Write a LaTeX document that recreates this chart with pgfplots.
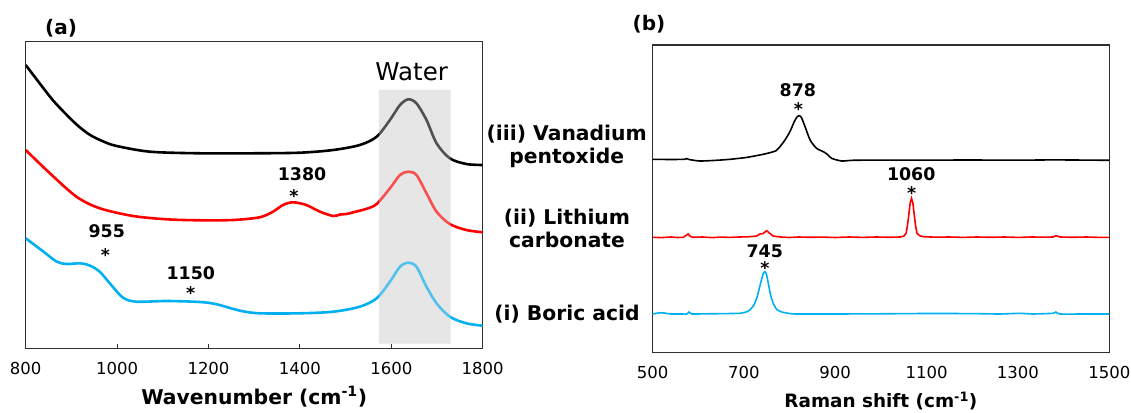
\documentclass[border=0pt]{standalone}
\usepackage{fontspec}
\setmainfont{DejaVu Sans}
\usepackage{pgfplots}
\pgfplotsset{compat=1.18}
\definecolor{bandgray}{HTML}{E7E6E6}
\definecolor{cblue}{HTML}{00B0F0}
\definecolor{cred}{HTML}{FF0000}
\definecolor{axgray}{HTML}{303030}
\pgfplotsset{myax/.style={scale only axis, anchor=south west, enlargelimits=false,
  ytick=\empty, axis line style={axgray, line width=1.2pt},
  /pgf/number format/assume math mode=true, /pgf/number format/1000 sep={},
  xticklabel style={font=\fontsize{16.5}{18}\selectfont, yshift=-10pt},
  xlabel style={anchor=center},
  xtick pos=bottom, tick style={axgray, line width=1pt}}}
\newcommand{\numf}{\fontsize{17.4}{20}\selectfont\bfseries}
\begin{document}
\begin{tikzpicture}
\useasboundingbox (0,0) rectangle (1131pt,412pt);
% ---------------- panel (a)
\begin{axis}[myax, at={(25.7pt,63.3pt)}, width=457pt, height=307pt,
  xmin=800, xmax=1800, ymin=-348.7, ymax=-41.7,
  xtick={800,1000,...,1800}, tick align=inside, major tick length=4.5pt,
  xlabel={Wavenumber (cm\textsuperscript{-1})},
  xlabel style={font=\fontsize{20.3}{23}\selectfont\bfseries, at={(axis description cs:0.5,-0.157)}}]
\addplot[fill=bandgray, draw=none] coordinates {(1573,-343.7) (1730,-343.7) (1730,-90) (1573,-90) (1573,-343.7)};
\addplot[black, line width=2.6pt, smooth, tension=0.5] coordinates {
(800,-65) (830,-83) (860,-100.5) (890,-115) (915,-126) (941,-135) (970,-141.5) (999,-146)
(1072,-151.7) (1181,-153.3) (1300,-153.3) (1400,-152.7) (1473,-150) (1531,-145) (1568,-136.7)
(1597,-120) (1619,-105) (1637,-99.3) (1655,-103.3) (1677,-120) (1699,-143.3) (1728,-158.3) (1764,-164) (1800,-165)};
\addplot[cred, line width=2.6pt, smooth, tension=0.5] coordinates {
(800,-150) (853,-173.3) (911,-196.7) (962,-208.3) (1035,-216) (1108,-219.3) (1181,-220.3) (1254,-220)
(1312,-217.3) (1341,-211.7) (1363,-205) (1385,-202.3) (1414,-205) (1444,-211.7) (1473,-216)
(1488,-214.5) (1502,-214) (1515,-212.5) (1531,-210.7) (1548,-208.5) (1568,-204)
(1597,-188.3) (1619,-175) (1637,-171.7) (1655,-175) (1677,-193.3) (1699,-211.7) (1728,-224) (1764,-230) (1800,-232.3)};
\addplot[cblue, line width=2.6pt, smooth, tension=0.5] coordinates {
(800,-238.3) (839,-251.7) (868,-261.7) (890,-264) (919,-263.3) (941,-265.7) (962,-271.7) (984,-283.3)
(1013,-297.7) (1043,-301.7) (1108,-301) (1181,-302) (1218,-304.3) (1269,-310.7) (1312,-313.3) (1400,-313.3)
(1473,-311.7) (1531,-306.7) (1568,-298.3) (1597,-281.7) (1619,-266.7) (1637,-262.7) (1655,-266.7)
(1677,-286.7) (1699,-303.3) (1728,-316.7) (1764,-323.3) (1800,-325.7)};
\addplot[fill=bandgray, fill opacity=0.35, draw=none] coordinates {(1573,-343.7) (1730,-343.7) (1730,-90) (1573,-90) (1573,-343.7)};
\end{axis}
% ---------------- panel (b)
\begin{axis}[myax, at={(652.5pt,59.7pt)}, width=456.8pt, height=307.3pt,
  xmin=500, xmax=1500, ymin=-352.3, ymax=-45,
  xtick={500,700,...,1500}, major tick length=0pt,
  xlabel={Raman shift (cm\textsuperscript{-1})},
  xlabel style={font=\fontsize{18.4}{21}\selectfont\bfseries, at={(axis description cs:0.5,-0.158)}}]
\addplot[black, line width=1.6pt, smooth, tension=0.4] coordinates {
(500,-159.3) (540,-159.5) (570,-159.3) (575,-158.6) (580,-159.5) (604,-161) (640,-160.3) (670,-159.3) (705,-157.5) (735,-155)
(750,-153.5) (757,-152.7) (770,-150.8) (779,-146.7) (790,-140) (801,-131.5) (810,-122) (816,-117.2) (821,-115.7)
(826,-117.5) (834,-126.7) (845,-140) (859,-148.3) (874,-151.7) (883,-154.5) (892,-158.3) (914,-161)
(939,-160.3) (1000,-160.1) (1100,-160.2) (1188,-160) (1300,-160.2) (1380,-159.9) (1500,-160.3)};
\addplot[cred, line width=1.6pt] coordinates {
(500,-237.3) (520,-237.6) (540,-237) (555,-237.5) (567,-237.3) (573,-235.5) (578,-234) (583,-236.5) (589,-237.3)
(610,-237) (630,-237.6) (650,-237.1) (670,-237.4) (690,-237) (710,-236.8) (728,-236) (735,-234)
(742,-233.5) (750,-230.7) (757,-233.5) (764,-236) (780,-237) (800,-237.5) (820,-237) (845,-237.3)
(870,-237.1) (900,-237.5) (930,-237) (960,-237.4) (990,-237) (1020,-237.3) (1042,-237) (1050,-236.2)
(1055,-233.3) (1058,-226) (1061,-215) (1064,-203) (1067,-198.3) (1070,-203) (1073,-215) (1076,-226)
(1079,-233.3) (1085,-235.8) (1093,-236.7) (1120,-237.2) (1150,-237) (1180,-237.4) (1210,-237) (1240,-237.3)
(1270,-237) (1300,-237.4) (1330,-237) (1360,-237.2) (1377,-237) (1383,-235.7) (1392,-237) (1420,-237.3)
(1450,-237) (1480,-237.4) (1500,-237.3)};
\addplot[cblue, line width=1.6pt, smooth, tension=0.3] coordinates {
(500,-314) (510,-313.2) (520,-312.7) (532,-313.5) (542,-314) (560,-314) (575,-314) (580,-312) (586,-314)
(620,-313.8) (660,-313.6) (692,-313.3) (705,-312) (713,-310) (722,-305) (729,-297) (734,-288) (739,-279)
(743,-273) (746,-271.7) (749,-273.5) (753,-282) (758,-294) (764,-303) (772,-309.5) (783,-312) (800,-313.5)
(815,-314) (900,-314) (1000,-313.8) (1100,-313.5) (1200,-313.6) (1260,-314) (1304,-313.3) (1333,-314)
(1377,-313.3) (1383,-312) (1392,-314) (1450,-314) (1500,-314)};
\end{axis}
% ---------------- labels
\node[font=\fontsize{20}{24}\selectfont\bfseries] at (61pt,384pt) {(a)};
\node[font=\fontsize{20}{24}\selectfont\bfseries] at (649pt,387.3pt) {(b)};
\node[font=\fontsize{24.5}{28}\selectfont] at (411.7pt,340pt) {Water};
\node[font=\numf, anchor=base] at (302pt,231.7pt) {1380};
\node[font=\numf, anchor=base] at (294pt,209.9pt) {*};
\node[font=\numf, anchor=base] at (106.7pt,174pt) {955};
\node[font=\numf, anchor=base] at (105.3pt,150.3pt) {*};
\node[font=\numf, anchor=base] at (190.8pt,132.3pt) {1150};
\node[font=\numf, anchor=base] at (190.7pt,112.6pt) {*};
\node[font=\numf, anchor=base] at (797.8pt,315.3pt) {878};
\node[font=\numf, anchor=base] at (798.3pt,296pt) {*};
\node[font=\numf, anchor=base] at (911.2pt,231.7pt) {1060};
\node[font=\numf, anchor=base] at (911.7pt,212.6pt) {*};
\node[font=\numf, anchor=base] at (764.7pt,154pt) {745};
\node[font=\numf, anchor=base] at (765pt,137pt) {*};
\node[font=\fontsize{20.3}{23.3}\selectfont\bfseries, align=center] at (566.7pt,265.3pt) {(iii) Vanadium\\pentoxide};
\node[font=\fontsize{20.3}{23.3}\selectfont\bfseries, align=center] at (567pt,183.7pt) {(ii) Lithium\\carbonate};
\node[font=\fontsize{20.3}{23.3}\selectfont\bfseries, align=center] at (567pt,98pt) {(i) Boric acid};
\end{tikzpicture}
\end{document}
